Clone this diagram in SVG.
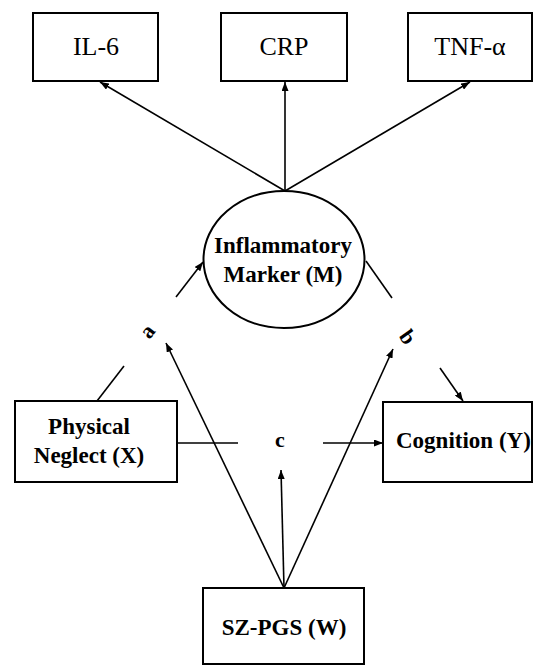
<svg xmlns="http://www.w3.org/2000/svg" width="533" height="666" viewBox="0 0 533 666">
<style>
.box{fill:#fff;stroke:#000;stroke-width:2}
.reg{font-family:'Liberation Serif','DejaVu Serif',serif;font-size:26px;fill:#000}
.bold{font-family:'Liberation Serif','DejaVu Serif',serif;font-size:23px;font-weight:bold;fill:#000}
.lbl{font-family:'Liberation Serif','DejaVu Serif',serif;font-size:22px;font-weight:bold;fill:#000}
.ln{stroke:#000;stroke-width:1.6;fill:none}
</style>
<defs>
<marker id="ah" markerUnits="userSpaceOnUse" markerWidth="9" markerHeight="7" refX="9" refY="3.5" orient="auto">
<path d="M0,0 L9,3.5 L0,7 z" fill="#000"/>
</marker>
</defs>
<rect width="533" height="666" fill="#fff"/>
<g id="connectors">
<line class="ln" x1="285" y1="191" x2="100" y2="82" marker-end="url(#ah)"/>
<line class="ln" x1="285" y1="191" x2="285" y2="82" marker-end="url(#ah)"/>
<line class="ln" x1="285" y1="191" x2="470" y2="82" marker-end="url(#ah)"/>
<line class="ln" x1="97" y1="401" x2="124" y2="366"/>
<line class="ln" x1="176" y1="297" x2="203" y2="262" marker-end="url(#ah)"/>
<line class="ln" x1="366" y1="261" x2="392" y2="298"/>
<line class="ln" x1="440" y1="368" x2="463" y2="401" marker-end="url(#ah)"/>
<line class="ln" x1="177" y1="443" x2="238" y2="443"/>
<line class="ln" x1="323" y1="443" x2="383" y2="443" marker-end="url(#ah)"/>
<line class="ln" x1="284" y1="588" x2="166" y2="343" marker-end="url(#ah)"/>
<line class="ln" x1="284" y1="588" x2="281" y2="470" marker-end="url(#ah)"/>
<line class="ln" x1="284" y1="588" x2="393" y2="349" marker-end="url(#ah)"/>
<text class="lbl" x="147" y="331" text-anchor="middle" dominant-baseline="central" transform="rotate(-52 147 331)">a</text>
<text class="lbl" x="408" y="337" text-anchor="middle" dominant-baseline="central" transform="rotate(55 408 337)">b</text>
<text class="lbl" x="280" y="447" text-anchor="middle">c</text>
</g>
<g id="il6">
<rect class="box" x="33" y="13" width="125" height="68"/>
<text class="reg" x="96" y="55" text-anchor="middle">IL-6</text>
</g>
<g id="crp">
<rect class="box" x="221" y="13" width="126" height="68"/>
<text class="reg" x="284" y="55" text-anchor="middle">CRP</text>
</g>
<g id="tnf">
<rect class="box" x="408" y="13" width="124" height="68"/>
<text class="reg" x="470" y="55" text-anchor="middle">TNF-α</text>
</g>
<g id="marker">
<ellipse class="box" cx="284" cy="259.5" rx="80.5" ry="68.5"/>
<text class="bold" x="283" y="253" text-anchor="middle">Inflammatory</text>
<text class="bold" x="283" y="282" text-anchor="middle">Marker (M)</text>
</g>
<g id="neglect">
<rect class="box" x="15" y="401" width="162" height="81"/>
<text class="bold" x="89" y="434" text-anchor="middle">Physical</text>
<text class="bold" x="89" y="463" text-anchor="middle">Neglect (X)</text>
</g>
<g id="cognition">
<rect class="box" x="383" y="402" width="149" height="80"/>
<text class="bold" x="396" y="448">Cognition (Y)</text>
</g>
<g id="szpgs">
<rect class="box" x="203" y="588" width="161" height="76"/>
<text class="bold" x="284" y="635" text-anchor="middle">SZ-PGS (W)</text>
</g>
</svg>
